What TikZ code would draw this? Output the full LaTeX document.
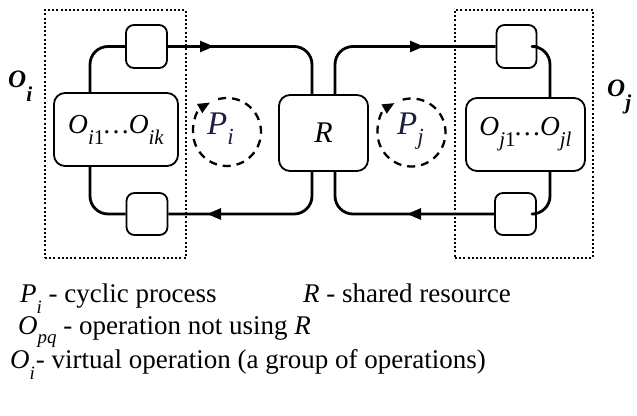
\documentclass[tikz,border=0pt]{standalone}
\usepackage{fontspec}
\setmainfont{Liberation Serif}
\usepackage{graphicx}
\usetikzlibrary{arrows.meta,calc}

% font size helper (1pt in the picture = 1 unit)
\newcommand\fs[1]{\fontsize{#1}{#1}\selectfont}
% lowered, reduced subscript that scales with the current font
\newcommand\lsub[2][0.38em]{\raisebox{-#1}{\scalebox{0.7}{#2}}}
\newcommand\bsub[1]{\raisebox{-0.4em}{\scalebox{0.76}{#1}}}
\definecolor{pcol}{RGB}{30,30,62}

\begin{document}
\begin{tikzpicture}[x=1pt,y=1pt,
  loopline/.style={line width=2.8pt, line join=round},
  flowtip/.style={-{Triangle[length=14pt,width=11pt]}},
  opbox/.style={draw, line width=1.8pt, rounded corners=8pt, fill=white, inner sep=0pt},
  bigbox/.style={draw, line width=1.8pt, rounded corners=11pt, fill=white, inner sep=0pt},
  groupbox/.style={draw, line width=2.2pt, dash pattern=on 2pt off 2.2pt, inner sep=0pt},
  cyc/.style={line width=2.3pt, dash pattern=on 8pt off 6pt},
  txt/.style={anchor=base west, inner sep=0pt}]
\useasboundingbox (0,0) rectangle (637,415);

% groups of operations (virtual operations)
\node[groupbox, minimum width=141pt, minimum height=248pt] (gi) at (115.5,281) {};
\node[groupbox, minimum width=138pt, minimum height=248pt] (gj) at (524,281) {};

% x positions of the vertical runs of the two loops
\coordinate (lx) at (90,0);
\coordinate (ax) at (312,0);
\coordinate (bx) at (335,0);
\coordinate (rx) at (550,0);

% operations
\node[opbox, minimum width=41pt, minimum height=43pt] (ltop) at (146.5,368.5) {};
\node[opbox, minimum width=41pt, minimum height=42pt] (lbot) at (147,201) {};
\node[bigbox, minimum width=124pt, minimum height=73pt] (lbig) at (116,285.5)
  {\fs{27.5}\itshape O\bsub{i{\upshape1}}\ldots O\bsub{ik}};
\node[bigbox, minimum width=89pt, minimum height=76pt] (R) at (323.5,282)
  {\fs{30}\itshape R};
\node[opbox, minimum width=40pt, minimum height=43pt] (rtop) at (516.5,368.5) {};
\node[opbox, minimum width=41pt, minimum height=42pt] (rbot) at (515.5,201) {};
\node[bigbox, minimum width=119pt, minimum height=73pt] (rbig) at (525.5,280.5)
  {\fs{27.5}\itshape O\bsub{j{\upshape1}}\ldots O\bsub{jl}};

% loop of process P_i
\draw[loopline, rounded corners=18pt] (ltop.west) -| (lx |- lbig.north);
\draw[loopline, rounded corners=18pt] (lbig.south -| lx) |- (lbot.west);
\draw[loopline, rounded corners=18pt] (ltop.east) -| (ax |- R.north);
\draw[loopline, rounded corners=18pt] (R.south -| ax) |- (lbot.east);
% loop of process P_j
\draw[loopline, rounded corners=18pt] (R.north -| bx) |- (rtop.west);
\draw[loopline, rounded corners=18pt] (rtop.east) -| (rx |- rbig.north);
\draw[loopline, rounded corners=18pt] (rbig.south -| rx) |- (rbot.east);
\draw[loopline, rounded corners=18pt] (rbot.west) -| (bx |- R.south);

% direction arrows
\coordinate (t1) at (214,368.5);
\coordinate (t2) at (207,201);
\coordinate (t3) at (424,368.5);
\coordinate (t4) at (407,201);
\draw[loopline, flowtip] ([xshift=-20pt]t1) -- (t1);
\draw[loopline, flowtip] ([xshift=20pt]t2) -- (t2);
\draw[loopline, flowtip] ([xshift=-20pt]t3) -- (t3);
\draw[loopline, flowtip] ([xshift=20pt]t4) -- (t4);

% cyclic processes
\coordinate (ci) at (227,283);
\coordinate (cj) at (411.5,282.5);
\draw[cyc, -{Triangle[length=12pt,width=10pt]}] (ci) ++(105:34) arc[start angle=105, end angle=-240, radius=34];
\draw[cyc, -{Triangle[length=12pt,width=10pt]}] (cj) ++(105:34) arc[start angle=105, end angle=-240, radius=34];
\node[txt, text=pcol] (pi) at (207,280) {\fs{33}\itshape P\lsub[0.3em]{i}};
\node[txt, text=pcol] (pj) at (397,280) {\fs{33}\itshape P\lsub[0.3em]{j}};

% names of the virtual operations
\node[txt] (oi) at (8,327) {\fs{25}\bfseries\itshape O\raisebox{-0.55em}{\scalebox{0.85}{i}}};
\node[txt] (oj) at (607,318) {\fs{25}\bfseries\itshape O\raisebox{-0.5em}{\scalebox{0.85}{j}}};

% legend
\node[txt] (lg1) at (20,112) {\fs{27}\textit{P}\lsub{\textit{i}} - cyclic process};
\node[txt] (lg2) at (303,112) {\fs{27}\textit{R} - shared resource};
\node[txt] (lg3) at (18,80) {\fs{27}\textit{O}\lsub[0.33em]{\textit{pq}} - operation not using \textit{R}};
\node[txt] (lg4) at (10,46) {\fs{27}\textit{O}\lsub{\textit{i}}\kern1pt - virtual operation (a group of operations)};
\end{tikzpicture}
\end{document}
